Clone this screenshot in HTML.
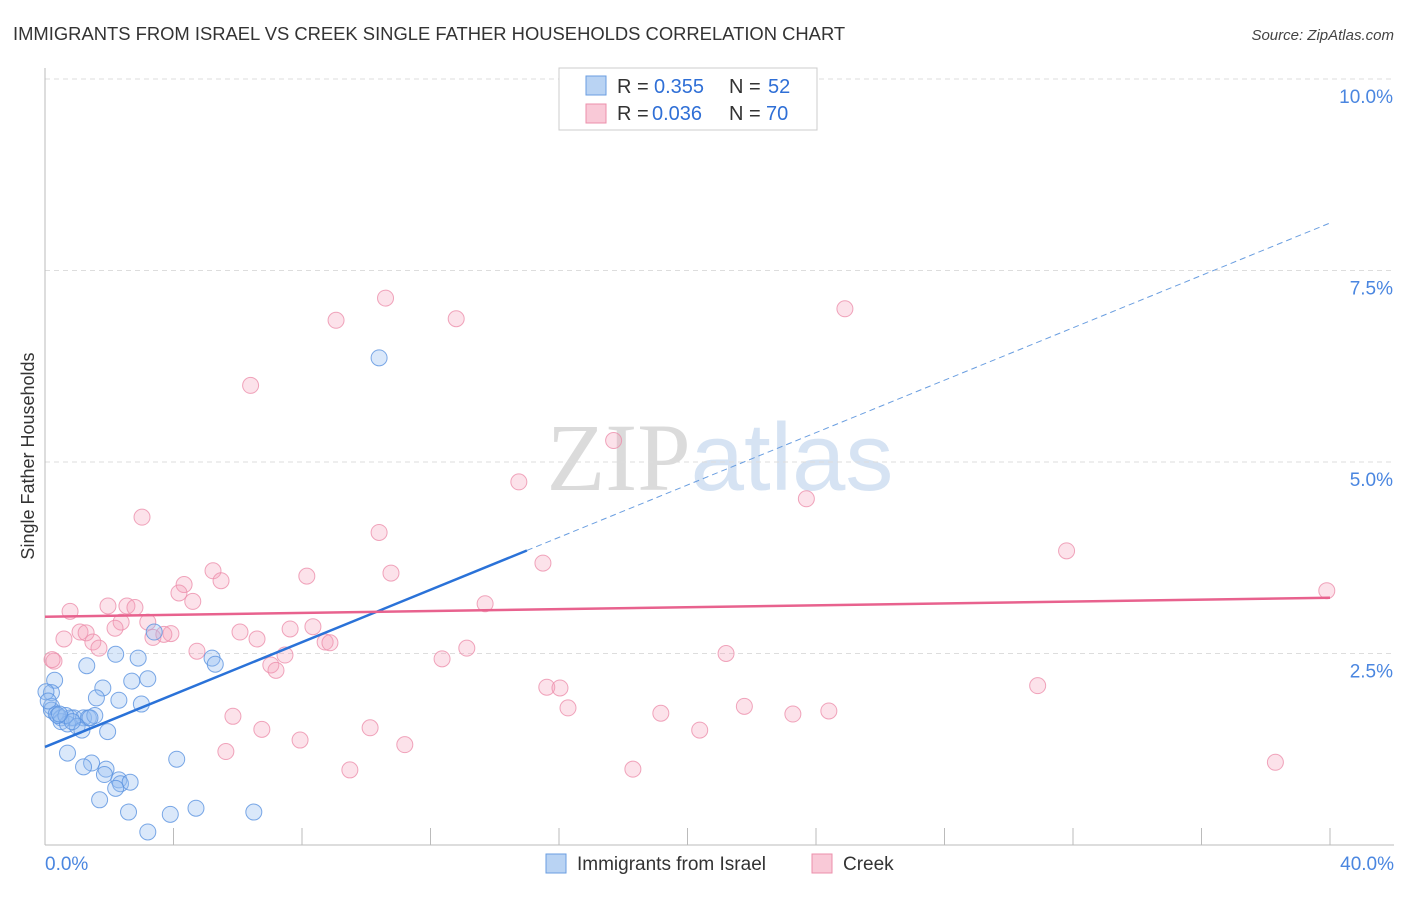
<!DOCTYPE html>
<html><head><meta charset="utf-8">
<style>
body{margin:0;background:#fff;font-family:"Liberation Sans",sans-serif;}
svg text{font-family:"Liberation Sans",sans-serif;}
</style></head>
<body>
<svg id="chart" width="1406" height="892" xmlns="http://www.w3.org/2000/svg">
<text x="13" y="40" font-size="18.4" fill="#333">IMMIGRANTS FROM ISRAEL VS CREEK SINGLE FATHER HOUSEHOLDS CORRELATION CHART</text>
<text x="1394" y="40" font-size="15" fill="#444" text-anchor="end" font-style="italic">Source: ZipAtlas.com</text>
<text x="720" y="490" font-size="96" text-anchor="middle" opacity="0.7"><tspan font-family="Liberation Serif" fill="#ccc">ZIP</tspan><tspan fill="#c5d8ee">atlas</tspan></text>
<g id="grid"></g>
<g id="axes"></g>
<g id="pts"></g>
<g id="lines"></g>
<text transform="translate(34,456) rotate(-90)" font-size="18" fill="#333" text-anchor="middle">Single Father Households</text>
<g>
<rect x="559" y="68" width="258" height="62" fill="#fff" stroke="#ccc"/>
<rect x="586" y="76" width="20" height="19" fill="#b9d3f3" stroke="#6a9ee0"/>
<rect x="586" y="104" width="20" height="19" fill="#f9c9d7" stroke="#ec8fab"/>
<text x="617" y="93" font-size="20" fill="#333">R =</text>
<text x="654" y="93" font-size="20" fill="#2f6fd6">0.355</text>
<text x="729" y="93" font-size="20" fill="#333">N =</text>
<text x="768" y="93" font-size="20" fill="#2f6fd6">52</text>
<text x="617" y="120" font-size="20" fill="#333">R =</text>
<text x="652" y="120" font-size="20" fill="#2f6fd6">0.036</text>
<text x="729" y="120" font-size="20" fill="#333">N =</text>
<text x="766" y="120" font-size="20" fill="#2f6fd6">70</text>
</g>
<g>
<rect x="546" y="854" width="20" height="19" fill="#b9d3f3" stroke="#6a9ee0"/>
<text x="577" y="870" font-size="19" fill="#333">Immigrants from Israel</text>
<rect x="812" y="854" width="20" height="19" fill="#f9c9d7" stroke="#ec8fab"/>
<text x="843" y="870" font-size="19" fill="#333">Creek</text>
</g>
</svg>
<script>
const yTicks=[2.5,5.0,7.5,10.0];
const xTickCount=10;
const blueX=[10.4,3.4,2.2,2.9,5.2,5.3,1.3,0.3,3.2,2.7,1.8,0.2,1.6,2.3,3.0,0.2,0.2,0.35,0.5,0.8,0.9,1.2,1.35,1.55,0.5,0.7,1.0,1.15,1.95,0.7,1.45,4.1,1.2,1.9,1.85,2.3,2.35,2.65,2.2,1.7,2.6,3.9,4.7,6.5,3.2,0.03,0.1,0.4,1.4,0.65,0.85,0.45];
const blueY=[6.36,2.78,2.49,2.44,2.44,2.36,2.34,2.15,2.17,2.14,2.05,1.99,1.92,1.89,1.84,1.81,1.76,1.71,1.66,1.66,1.66,1.66,1.66,1.69,1.61,1.58,1.55,1.5,1.48,1.2,1.07,1.12,1.02,0.99,0.92,0.85,0.8,0.82,0.74,0.59,0.43,0.4,0.48,0.43,0.17,2.0,1.88,1.69,1.66,1.69,1.61,1.71];
const pinkX=[10.6,9.06,12.8,24.9,6.4,17.7,14.75,3.02,23.7,10.4,31.8,15.5,5.23,8.15,10.77,5.48,4.33,39.9,4.17,4.6,1.96,2.55,2.8,0.78,13.7,3.2,2.37,2.18,7.63,8.34,6.07,6.6,3.92,3.36,3.7,1.09,1.28,0.59,1.49,8.72,8.87,1.68,13.13,4.73,7.47,21.2,12.36,7.03,7.19,0.28,30.9,15.62,16.03,16.28,5.85,21.77,19.17,23.28,24.4,6.75,10.12,20.38,7.94,11.2,5.63,38.3,9.49,18.3,0.22];
const pinkY=[7.14,6.85,6.87,7.0,6.0,5.28,4.74,4.28,4.52,4.08,3.84,3.68,3.58,3.51,3.55,3.45,3.4,3.32,3.29,3.18,3.12,3.12,3.1,3.05,3.15,2.91,2.91,2.83,2.82,2.85,2.78,2.69,2.76,2.71,2.75,2.78,2.77,2.69,2.65,2.65,2.64,2.57,2.57,2.53,2.48,2.5,2.43,2.35,2.28,2.4,2.08,2.06,2.05,1.79,1.68,1.81,1.72,1.71,1.75,1.51,1.53,1.5,1.37,1.31,1.22,1.08,0.98,0.99,2.42];
const blueLine=[1.28,0.171];
const pinkLine=[2.98,0.0062];
const X0=45,X1=1330,Y0=845,PXY=76.6;
const sx=v=>X0+(X1-X0)*v/40;
const sy=v=>Y0-v*PXY;
const NS='http://www.w3.org/2000/svg';
function mk(tag,attrs,parent){const e=document.createElementNS(NS,tag);for(const k in attrs)e.setAttribute(k,attrs[k]);parent.appendChild(e);return e;}
const grid=document.getElementById('grid'),axes=document.getElementById('axes'),pts=document.getElementById('pts'),lines=document.getElementById('lines');
yTicks.forEach((t,i)=>{
 const l=mk('line',{x1:X0,x2:1394,y1:sy(t),y2:sy(t),stroke:'#ddd','stroke-dasharray':'5,4'},grid);
 
 
 const tx=mk('text',{x:1393,y:sy(t)+24,'font-size':19,fill:'#4a86e0','text-anchor':'end'},grid);
 tx.textContent=t.toFixed(1)+'%';
 
 
});
const ax=mk('line',{x1:X0,x2:1394,y1:Y0,y2:Y0,stroke:'#bbb'},axes);


const ay=mk('line',{x1:X0,x2:X0,y1:68,y2:Y0,stroke:'#bbb'},axes);


for(let i=1;i<=xTickCount;i++){
 const t=mk('line',{x1:sx(i*4),x2:sx(i*4),y1:Y0,y2:Y0-17,stroke:'#bbb'},axes);
 
 
}
const xl=mk('text',{x:45,y:870,'font-size':19,fill:'#4a86e0'},axes);xl.textContent='0.0%';


const xr=mk('text',{x:1394,y:870,'font-size':19,fill:'#4a86e0','text-anchor':'end'},axes);xr.textContent='40.0%';


pinkX.forEach((x,i)=>{
 const c=mk('circle',{cx:sx(x),cy:sy(pinkY[i]),r:8,fill:'rgba(244,160,186,0.3)',stroke:'rgba(236,143,171,0.8)','stroke-width':1},pts);
 
 
});
blueX.forEach((x,i)=>{
 const c=mk('circle',{cx:sx(x),cy:sy(blueY[i]),r:8,fill:'rgba(150,190,240,0.35)',stroke:'rgba(90,146,224,0.8)','stroke-width':1},pts);
 
 
});
const bs=mk('line',{x1:sx(0),y1:sy(blueLine[0]),x2:sx(15),y2:sy(blueLine[0]+15*blueLine[1]),stroke:'#2a72d8','stroke-width':2.5},lines);


const bd=mk('line',{x1:sx(15),y1:sy(blueLine[0]+15*blueLine[1]),x2:sx(40),y2:sy(blueLine[0]+40*blueLine[1]),stroke:'#6a9ee0','stroke-width':1,'stroke-dasharray':'6,4'},lines);


const pl=mk('line',{x1:sx(0),y1:sy(pinkLine[0]),x2:sx(40),y2:sy(pinkLine[0]+40*pinkLine[1]),stroke:'#e8628e','stroke-width':2.5},lines);


</script>
</body></html>
